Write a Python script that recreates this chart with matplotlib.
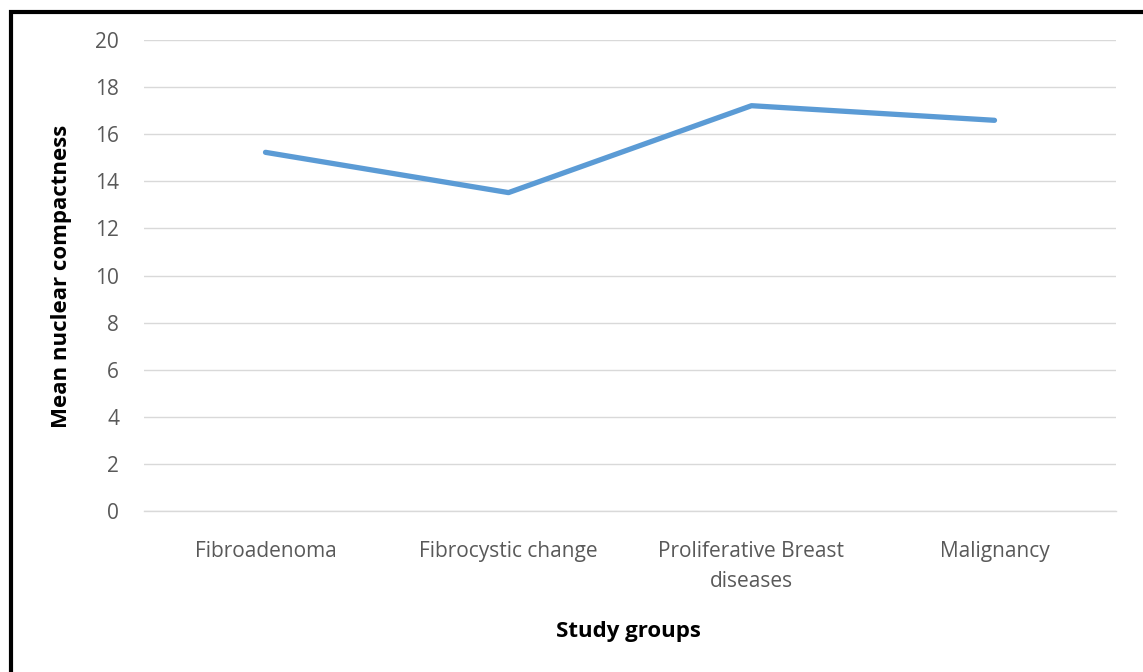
import matplotlib
matplotlib.use("Agg")
import matplotlib.pyplot as plt
from matplotlib.patches import Rectangle

groups = ["Fibroadenoma", "Fibrocystic change", "Proliferative Breast\ndiseases", "Malignancy"]
compactness = [15.23, 13.52, 17.21, 16.59]
y_ticks = [0, 2, 4, 6, 8, 10, 12, 14, 16, 18, 20]

plt.rcParams['font.family'] = ['Open Sans', 'DejaVu Sans']

W, H = 1143, 672
fig = plt.figure(figsize=(W / 100, H / 100), dpi=100)
ax = fig.add_axes([144 / W, 1 - 511 / H, (1116 - 144) / W, (511 - 40) / H])

x = list(range(len(groups)))
ax.plot(x, compactness, color="#5B9BD5", linewidth=3.8, solid_capstyle="round",
        solid_joinstyle="round", zorder=3)

ax.set_xlim(-0.5, len(groups) - 0.5)
ax.set_ylim(0, 20)
ax.set_yticks(y_ticks)
ax.set_xticks(x)
ax.set_xticklabels(groups, linespacing=1.55)
ax.grid(axis="y", color="#D9D9D9", linewidth=1.0)
ax.set_axisbelow(True)
for s in ax.spines.values():
    s.set_visible(False)
ax.spines["bottom"].set_visible(True)
ax.spines["bottom"].set_color("#D9D9D9")
ax.spines["bottom"].set_linewidth(1.0)
ax.tick_params(axis="both", length=0, labelsize=15, labelcolor="#595959")
ax.tick_params(axis="y", pad=18)
ax.tick_params(axis="x", pad=21.5)

fig.text(628 / W, 1 - 632 / H, "Study groups", ha="center", va="center",
         fontsize=16, fontweight="bold", color="black")
fig.text(62 / W, 1 - 276 / H, "Mean nuclear compactness", ha="center", va="center",
         rotation=90, fontsize=16, fontweight="bold", color="black")

# outer frame (left and top edges fall within the canvas)
fig.patches.append(Rectangle((10.5 / W, -0.1), 1.2, 1 - 12 / H + 0.1,
                             transform=fig.transFigure, fill=False,
                             edgecolor="black", linewidth=3.0))

fig.savefig("out.png", dpi=100)
